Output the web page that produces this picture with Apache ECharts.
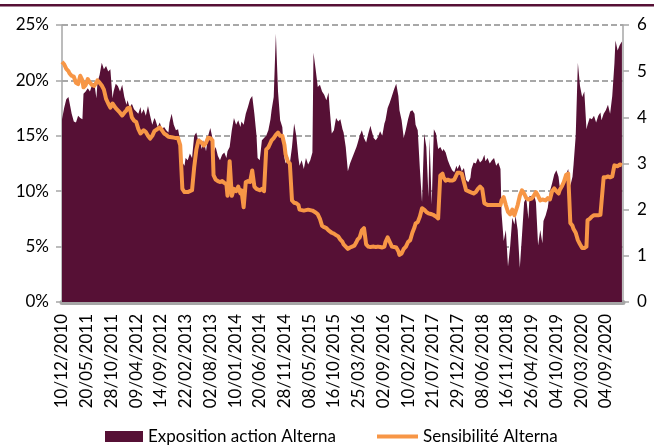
<!DOCTYPE html>
<html>
<head>
<meta charset="utf-8">
<script src="https://cdn.jsdelivr.net/npm/echarts@6/dist/echarts.min.js"></script>
<style>
html, body { margin: 0; padding: 0; background: #fff; }
#chart { width: 654px; height: 447px; }
</style>
</head>
<body>
<div id="chart"></div>
<script>
// libellés de l'axe des dates (un toutes les 23 semaines)
var tickLabels = ['10/12/2010', '20/05/2011', '28/10/2011', '09/04/2012', '14/09/2012', '22/02/2013',
    '02/08/2013', '10/01/2014', '20/06/2014', '28/11/2014', '08/05/2015', '16/10/2015', '25/03/2016',
    '02/09/2016', '10/02/2017', '21/07/2017', '29/12/2017', '08/06/2018', '16/11/2018', '26/04/2019',
    '04/10/2019', '20/03/2020', '04/09/2020'];

// semaine depuis le 10/12/2010
var weeks = [
    0, 2, 4, 6, 7, 9, 11, 13, 15, 17,
    19, 20, 22, 24, 26, 28, 30, 32, 33, 35,
    37, 39, 41, 43, 45, 47, 48, 50, 52, 54,
    56, 58, 60, 61, 63, 65, 67, 69, 71, 73,
    74, 76, 78, 80, 82, 84, 86, 87, 89, 91,
    93, 95, 97, 99, 100, 102, 104, 106, 108, 110,
    112, 114, 115, 117, 119, 121, 123, 125, 127, 128,
    130, 132, 134, 136, 138, 140, 141, 143, 145, 147,
    149, 151, 153, 154, 156, 158, 160, 162, 164, 166,
    167, 169, 171, 173, 175, 177, 179, 181, 182, 184,
    186, 188, 190, 192, 194, 195, 197, 199, 201, 203,
    205, 207, 208, 210, 212, 214, 216, 218, 220, 221,
    223, 225, 227, 229, 231, 233, 234, 236, 238, 240,
    242, 244, 246, 248, 249, 251, 253, 255, 257, 259,
    261, 262, 264, 266, 268, 270, 272, 274, 275, 277,
    279, 281, 283, 285, 287, 288, 290, 292, 294, 296,
    298, 300, 301, 303, 305, 307, 309, 311, 313, 314,
    316, 318, 320, 322, 324, 326, 328, 329, 331, 333,
    335, 337, 339, 341, 342, 344, 346, 348, 350, 352,
    354, 355, 357, 359, 361, 363, 365, 367, 368, 370,
    372, 374, 376, 378, 380, 381, 383, 385, 387, 389,
    391, 393, 394, 396, 398, 400, 402, 404, 406, 408,
    409, 411, 413, 415, 417, 419, 421, 422, 424, 426,
    428, 430, 432, 434, 435, 437, 439, 441, 443, 445,
    447, 448, 450, 452, 454, 456, 458, 460, 462, 463,
    465, 467, 469, 471, 473, 475, 476, 478, 480, 482,
    484, 486, 488, 489, 491, 493, 495, 497, 499, 501,
    502, 504, 506, 508, 510, 512, 514, 515, 517, 519,
    521
];

// Exposition action Alterna (%)
var exposition = [
    16.5, 17.5, 18.3, 18.5, 18.0, 17.0, 16.3, 16.2, 16.8, 16.6,
    16.5, 18.8, 19.0, 19.3, 19.0, 19.6, 19.8, 18.4, 19.8, 20.5,
    21.6, 21.0, 21.3, 20.8, 21.0, 18.4, 19.0, 19.7, 19.5, 19.0,
    19.6, 18.5, 17.8, 18.2, 17.5, 17.9, 17.4, 17.2, 17.0, 17.6,
    17.0, 17.4, 16.8, 17.7, 16.8, 16.0, 16.6, 16.4, 15.8, 16.2,
    15.6, 15.8, 15.5, 15.3, 16.2, 17.0, 16.0, 15.5, 15.6, 14.5,
    12.6, 12.3, 13.0, 12.8, 13.4, 13.0, 15.0, 15.3, 14.4, 14.8,
    13.8, 14.6, 13.6, 15.0, 15.7, 14.8, 13.5, 14.0, 13.2, 12.8,
    13.3, 13.5, 13.0, 13.6, 14.0, 15.5, 16.6, 16.0, 16.4, 15.8,
    16.3, 16.0, 17.0, 17.6, 18.3, 18.6, 17.0, 15.0, 13.0, 12.8,
    14.6, 14.8, 15.0, 15.5, 16.5, 17.3, 18.5, 24.2, 19.0, 16.4,
    15.8, 13.0, 12.5, 13.2, 12.5, 14.0, 16.1, 15.0, 13.0, 12.3,
    12.8, 12.0, 13.0, 12.4, 12.8, 13.5, 22.5, 21.0, 19.4, 19.6,
    19.0, 18.7, 18.2, 18.9, 17.5, 15.2, 15.5, 16.6, 16.3, 16.5,
    15.6, 15.3, 14.0, 11.8, 12.5, 13.0, 13.5, 14.0, 14.3, 15.0,
    15.5, 14.8, 14.4, 15.2, 15.9, 15.5, 14.8, 14.6, 14.9, 15.4,
    15.0, 16.1, 16.4, 17.5, 18.0, 18.6, 19.2, 19.7, 18.6, 17.3,
    16.4, 14.8, 15.6, 16.5, 17.2, 17.3, 17.0, 16.0, 15.5, 12.0,
    9.0, 15.2, 14.0, 9.5, 14.8, 8.8, 15.6, 15.2, 13.8, 14.0,
    13.6, 13.8, 13.5, 12.8, 12.3, 11.9, 11.7, 12.3, 12.0, 12.4,
    11.8, 12.1, 11.0, 10.8, 11.2, 12.0, 12.6, 12.5, 13.0, 12.6,
    12.8, 13.3, 12.7, 13.0, 12.5, 12.8, 13.0, 12.3, 12.6, 12.0,
    8.0, 5.5, 6.5, 3.2, 5.0, 7.6, 7.0, 7.8, 6.5, 3.1,
    6.0, 9.0, 9.4, 7.5, 9.6, 9.5, 9.8, 9.0, 5.1, 6.5,
    5.3, 7.3, 7.8, 8.5, 10.0, 10.7, 11.5, 11.9, 11.3, 10.5,
    10.2, 11.0, 11.5, 12.0, 10.5, 11.3, 12.4, 15.0, 21.6, 19.5,
    18.5, 19.0, 15.6, 16.0, 16.6, 16.5, 16.8, 16.2, 16.8, 17.1,
    16.4, 17.0, 17.3, 17.8, 17.0, 18.6, 21.5, 23.6, 22.7, 23.2,
    23.5
];

// Sensibilité Alterna
var sensibilite = [
    5.2, 5.15, 5.05, 5.0, 4.95, 4.9, 4.88, 4.75, 4.72, 4.9,
    4.8, 4.65, 4.7, 4.83, 4.75, 4.7, 4.68, 4.75, 4.8, 4.75,
    4.69, 4.6, 4.4, 4.3, 4.21, 4.3, 4.3, 4.2, 4.15, 4.1,
    4.04, 4.1, 4.15, 4.2, 4.21, 4.0, 3.93, 3.9, 3.75, 3.65,
    3.68, 3.72, 3.68, 3.6, 3.54, 3.6, 3.7, 3.72, 3.75, 3.78,
    3.72, 3.65, 3.62, 3.58, 3.56, 3.57, 3.56, 3.55, 3.55, 3.4,
    2.45, 2.38, 2.37, 2.38, 2.4, 2.42, 2.92, 3.3, 3.5, 3.5,
    3.45, 3.39, 3.45, 3.56, 3.55, 3.5, 2.75, 2.65, 2.62, 2.6,
    2.62, 2.58, 2.55, 2.3, 3.05, 2.3, 2.45, 2.4, 2.5, 2.35,
    2.42, 2.05, 2.6, 2.62, 2.6, 2.85, 2.5, 2.45, 2.48, 2.42,
    2.45, 2.4, 3.3, 3.35, 3.45, 3.5, 3.55, 3.62, 3.67, 3.6,
    3.6, 3.4, 3.2, 3.05, 3.0, 2.2, 2.15, 2.14, 2.1, 2.0,
    1.99, 1.98, 1.99, 2.0, 1.99, 1.98, 1.96, 1.94, 1.9, 1.8,
    1.65, 1.62, 1.6, 1.55, 1.51, 1.5, 1.48, 1.45, 1.42, 1.35,
    1.3, 1.25, 1.2, 1.15, 1.18, 1.2, 1.22, 1.3, 1.35, 1.4,
    1.55, 1.6, 1.25, 1.2, 1.19, 1.2, 1.2, 1.19, 1.2, 1.19,
    1.18, 1.2, 1.3, 1.4, 1.3, 1.2, 1.19, 1.18, 1.1, 1.02,
    1.05, 1.15, 1.2, 1.3, 1.34, 1.5, 1.62, 1.7, 1.73, 1.85,
    2.03, 2.0, 1.95, 1.92, 1.92, 1.9, 1.88, 1.85, 1.81, 2.74,
    2.78, 2.7, 2.63, 2.65, 2.63, 2.63, 2.65, 2.75, 2.8, 2.8,
    2.78, 2.6, 2.42, 2.4, 2.38, 2.35, 2.35, 2.38, 2.45, 2.5,
    2.45, 2.14, 2.12, 2.1, 2.1, 2.1, 2.1, 2.1, 2.1, 2.1,
    2.2, 2.27, 2.1, 1.95, 1.9, 2.0, 1.88, 1.9, 2.1, 2.3,
    2.42, 2.35, 2.25, 2.22, 2.25, 2.24, 2.3, 2.38, 2.3, 2.2,
    2.22, 2.18, 2.2, 2.25, 2.22, 2.4, 2.46, 2.4, 2.35, 2.42,
    2.5, 2.6, 2.75, 2.78, 1.71, 1.65, 1.58, 1.5, 1.34, 1.25,
    1.17, 1.17, 1.2, 1.77, 1.8, 1.85, 1.88, 1.88, 1.88, 1.89,
    1.9, 2.7, 2.7, 2.72, 2.7, 2.72, 2.96, 2.96, 2.94, 2.98,
    2.96
];

var bordeaux = '#561035';
var orange = '#f79646';
var police = 'Lato';

var expoData = weeks.map(function (w, i) { return [w, exposition[i]]; });
var sensData = weeks.map(function (w, i) { return [w, sensibilite[i]]; });

var chart = echarts.init(document.getElementById('chart'));
var option = {
    backgroundColor: '#fff',
    animation: false,
    textStyle: { fontFamily: police },
    graphic: [
        {
            type: 'rect',
            left: 0,
            top: 4,
            shape: { width: 654, height: 2.5 },
            style: { fill: bordeaux }
        }
    ],
    legend: [
        {
            left: 105,
            top: 428,
            padding: 0,
            itemWidth: 38,
            itemHeight: 11,
            textStyle: { fontFamily: police, fontSize: 17, color: '#000' },
            data: [{ name: 'Exposition action Alterna', icon: 'rect' }]
        },
        {
            left: 377,
            top: 428,
            padding: 0,
            itemWidth: 41,
            itemHeight: 4,
            textStyle: { fontFamily: police, fontSize: 17, color: '#000' },
            data: [{ name: 'Sensibilité Alterna', icon: 'rect' }]
        }
    ],
    grid: {
        left: 62,
        right: 31,
        top: 25,
        bottom: 145
    },
    xAxis: {
        type: 'value',
        min: 0,
        max: 522,
        interval: 23,
        axisLine: {
            show: true,
            onZero: false,
            lineStyle: { color: '#a6a6a6', width: 5 }
        },
        axisTick: { show: false },
        splitLine: { show: false },
        axisLabel: {
            rotate: 90,
            margin: 12,
            fontFamily: police,
            fontSize: 17,
            color: '#000',
            showMaxLabel: false,
            formatter: function (v) {
                var i = v / 23;
                return (i % 1 === 0 && i < tickLabels.length) ? tickLabels[i] : '';
            }
        }
    },
    yAxis: [
        {
            type: 'value',
            min: 0,
            max: 25,
            interval: 5,
            axisLine: { show: true, lineStyle: { color: '#a6a6a6', width: 1.5 } },
            axisTick: { show: true, length: 6, lineStyle: { color: '#a6a6a6', width: 1.5 } },
            splitLine: {
                show: true,
                lineStyle: { color: '#8c8c8c', width: 1.5, type: [6, 3] }
            },
            axisLabel: {
                margin: 13,
                fontFamily: police,
                fontSize: 17,
                color: '#000',
                formatter: '{value}%'
            }
        },
        {
            type: 'value',
            min: 0,
            max: 6,
            interval: 1,
            position: 'right',
            axisLine: { show: true, lineStyle: { color: '#a6a6a6', width: 1.5 } },
            axisTick: { show: true, length: 6, lineStyle: { color: '#a6a6a6', width: 1.5 } },
            splitLine: { show: false },
            axisLabel: {
                margin: 14,
                fontFamily: police,
                fontSize: 17,
                color: '#000'
            }
        }
    ],
    series: [
        {
            name: 'Exposition action Alterna',
            type: 'line',
            yAxisIndex: 0,
            data: expoData,
            symbol: 'none',
            lineStyle: { width: 0 },
            itemStyle: { color: bordeaux },
            areaStyle: { color: bordeaux, opacity: 1 },
            z: 2
        },
        {
            name: 'Sensibilité Alterna',
            type: 'line',
            yAxisIndex: 1,
            data: sensData,
            symbol: 'none',
            lineStyle: { width: 4, color: orange, join: 'round' },
            itemStyle: { color: orange },
            z: 3
        }
    ]
};
chart.setOption(option);
</script>
</body>
</html>
